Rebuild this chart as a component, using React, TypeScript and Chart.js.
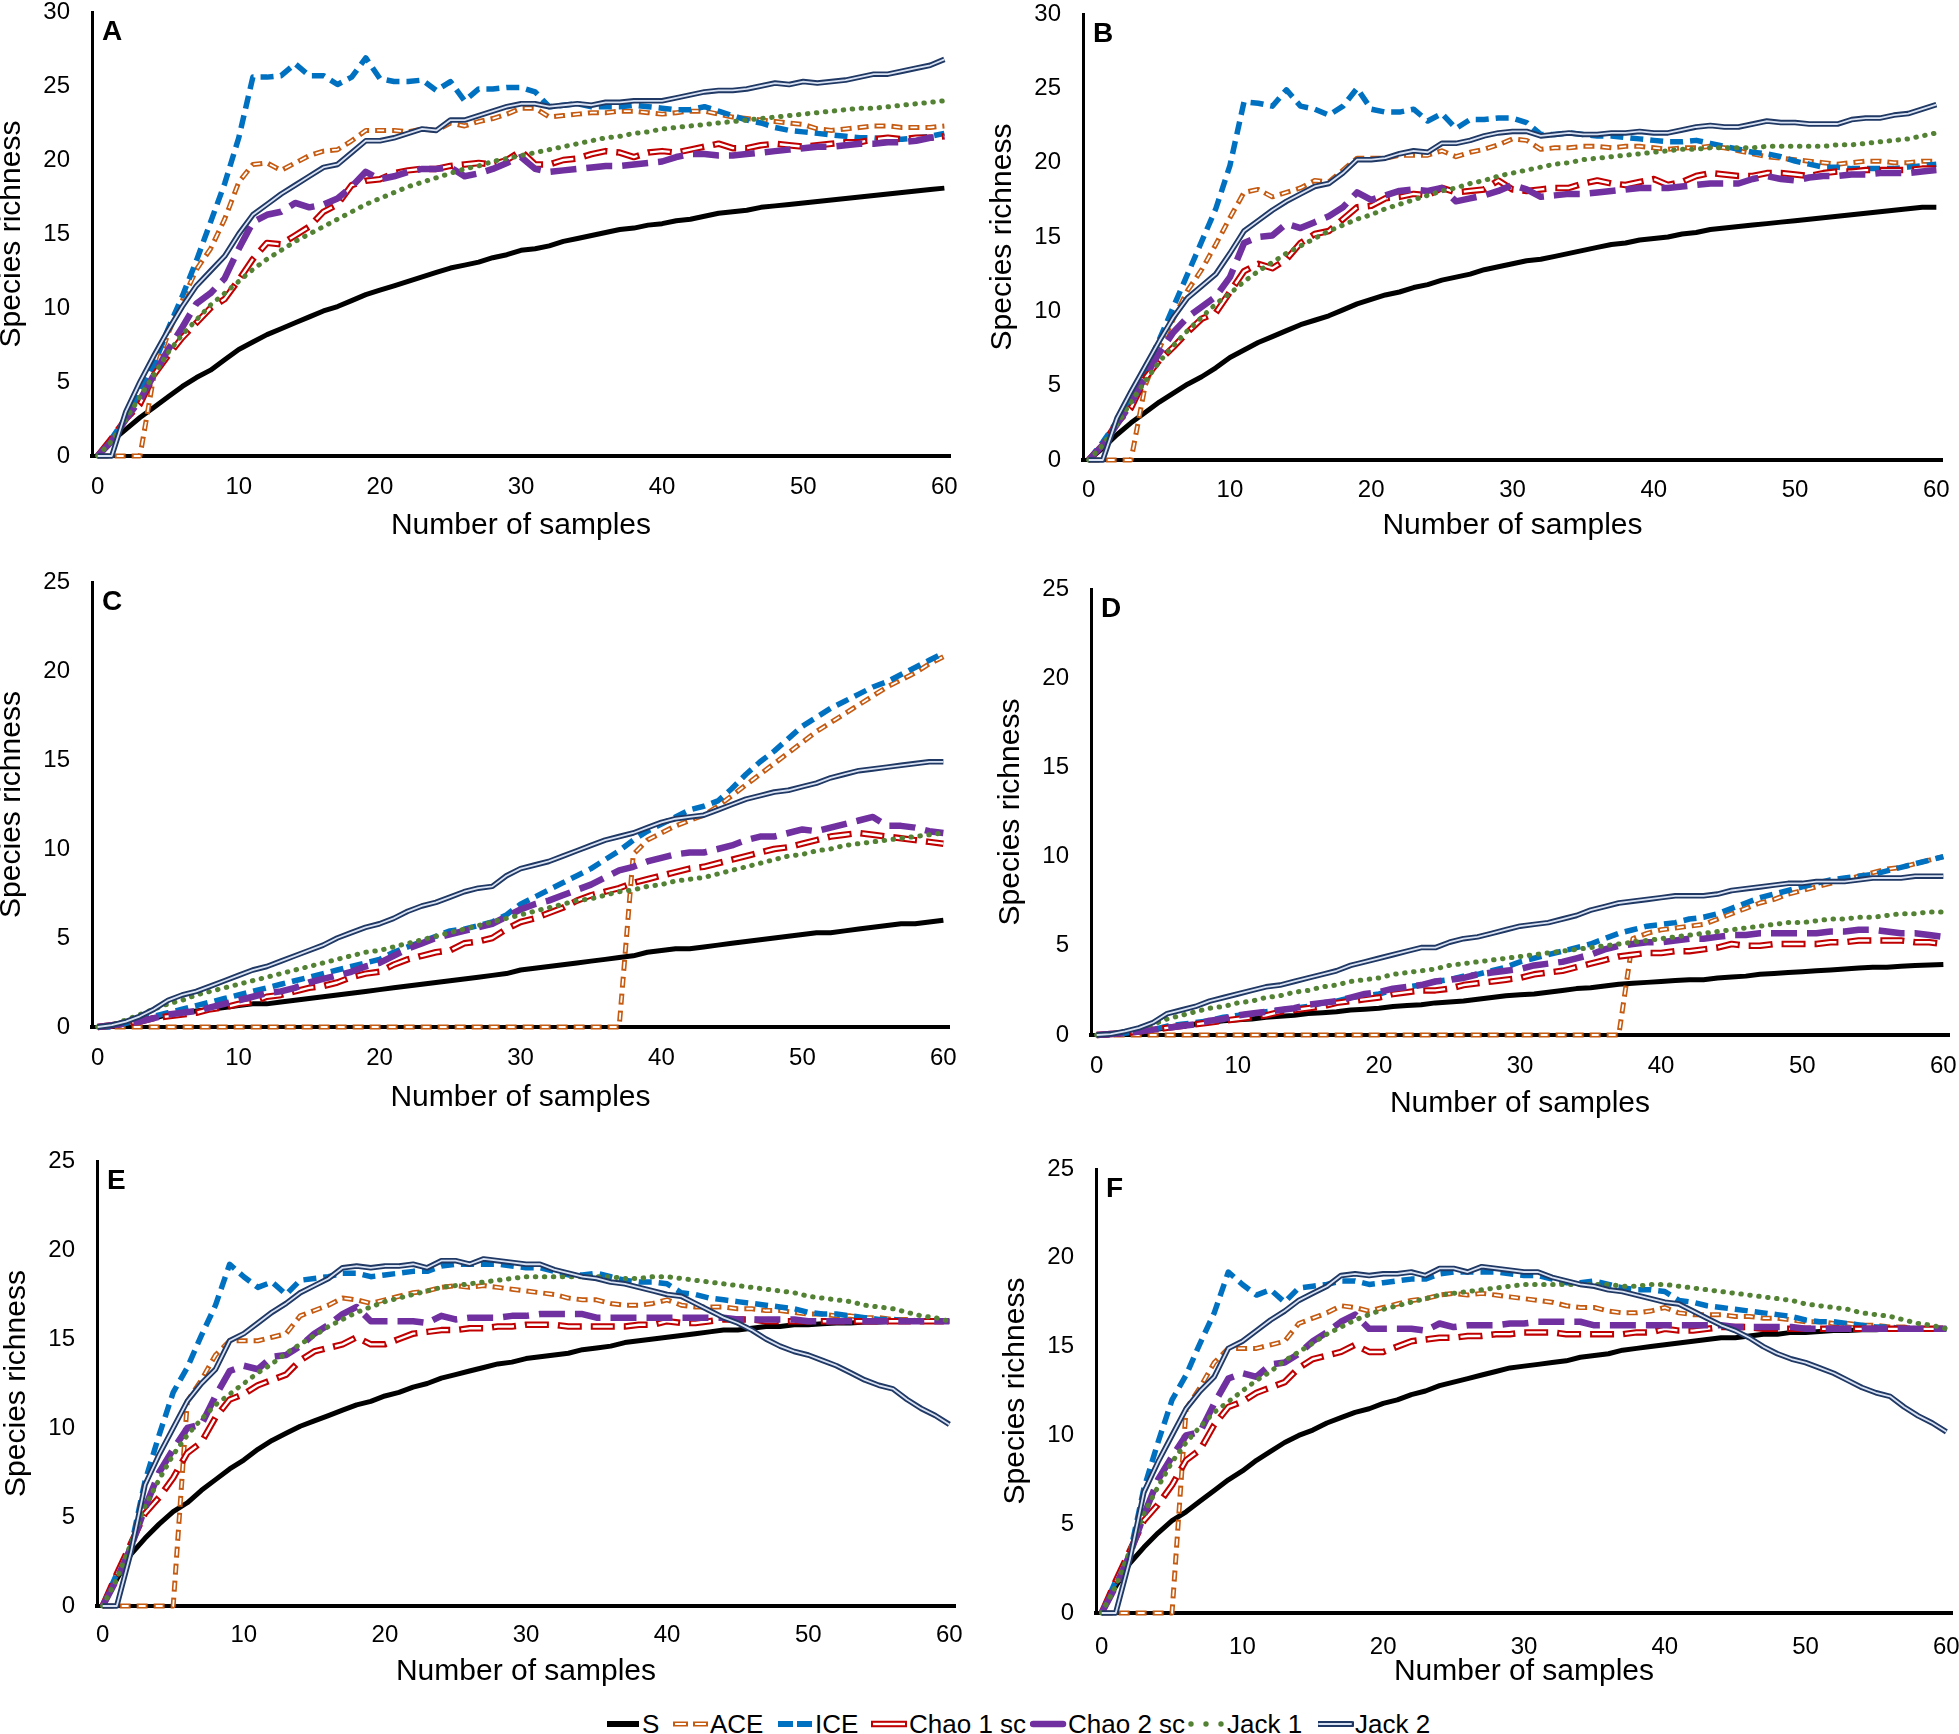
import React, { useEffect, useRef } from "react";
import { Chart, registerables } from "chart.js";

Chart.register(...registerables);

const FONT = "'Liberation Sans', Arial, Helvetica, sans-serif";

// Number of samples (x values)
const SAMPLES = Array.from({ length: 61 }, (_, i) => i);
const SERIES = ["S", "ACE", "ICE", "Chao 1 sc", "Chao 2 sc", "Jack 1", "Jack 2"];
const X_AXIS_TITLE = "Number of samples";
const Y_AXIS_TITLE = "Species richness";

// ---------------- Panel A ----------------
const A_S = [
  0, 1.0, 1.8, 2.6, 3.3, 4.0, 4.7, 5.3, 5.8, 6.5,
  7.2, 7.7, 8.2, 8.6, 9.0, 9.4, 9.8, 10.1, 10.5, 10.9,
  11.2, 11.5, 11.8, 12.1, 12.4, 12.7, 12.9, 13.1, 13.4, 13.6,
  13.9, 14.0, 14.2, 14.5, 14.7, 14.9, 15.1, 15.3, 15.4, 15.6,
  15.7, 15.9, 16.0, 16.2, 16.4, 16.5, 16.6, 16.8, 16.9, 17.0,
  17.1, 17.2, 17.3, 17.4, 17.5, 17.6, 17.7, 17.8, 17.9, 18.0,
  18.1,
];
const A_ACE = [
  0, 0, 0, 0, 5.5, 8.3, 10.5, 12.6, 14.0, 16.0,
  18.5, 19.7, 19.8, 19.3, 19.8, 20.3, 20.6, 20.7, 21.3, 22.0,
  22.0, 22.0, 21.9, 22.1, 22.0, 22.5, 22.3, 22.6, 22.8, 23.1,
  23.5, 23.5, 22.9, 23.0, 23.1, 23.2, 23.2, 23.3, 23.3, 23.2,
  23.1, 23.2, 23.3, 23.3, 23.1, 22.9, 22.8, 22.7, 22.6, 22.5,
  22.4, 22.1, 22.0, 22.1, 22.2, 22.3, 22.3, 22.2, 22.2, 22.2,
  22.3,
];
const A_ICE = [
  0, 1.2, 2.6, 4.2, 6.2, 8.6, 10.8, 13.2, 15.8, 18.4,
  21.5, 25.6, 25.6, 25.7, 26.5, 25.7, 25.7, 25.1, 25.6, 26.9,
  25.5, 25.3, 25.3, 25.4, 24.7, 25.3, 24.0, 24.8, 24.8, 24.9,
  24.9, 24.6, 23.6, 23.7, 23.8, 23.6, 23.6, 23.6, 23.7, 23.6,
  23.5, 23.4, 23.4, 23.6, 23.3, 23.0, 22.7, 22.5, 22.2, 22.0,
  21.9, 21.8, 21.7, 21.6, 21.5, 21.5, 21.4, 21.4, 21.5, 21.6,
  21.8,
];
const A_CHAO1 = [
  0, 1.2, 2.5, 3.5, 5.5, 6.8, 8.0, 9.0, 10.0, 10.6,
  11.9, 13.3, 14.4, 14.3, 14.9, 15.5, 16.5, 17.0, 18.3, 18.6,
  18.7, 19.1, 19.3, 19.4, 19.4, 19.6, 19.7, 19.8, 19.7, 20.0,
  20.6, 19.7, 19.7, 20.0, 20.1, 20.4, 20.6, 20.5, 20.2, 20.5,
  20.6, 20.5, 20.7, 20.9, 21.1, 20.8, 20.8, 21.0, 21.1, 21.0,
  20.9, 21.0, 21.1, 21.2, 21.2, 21.4, 21.5, 21.4, 21.5, 21.5,
  21.6,
];
const A_CHAO2 = [
  0, 1.0, 2.5, 3.8, 5.5, 7.2, 8.7, 10.3, 11.0, 12.0,
  14.0, 15.8, 16.3, 16.5, 17.1, 16.8, 17.0, 17.4, 18.2, 19.2,
  18.7, 18.9, 19.2, 19.4, 19.4, 19.5, 18.9, 19.1, 19.4, 19.8,
  20.2, 19.4, 19.2, 19.3, 19.4, 19.5, 19.6, 19.6, 19.7, 19.8,
  19.9, 20.2, 20.4, 20.4, 20.3, 20.3, 20.4, 20.5, 20.6, 20.7,
  20.8, 20.9, 20.9, 21.0, 21.1, 21.1, 21.2, 21.2, 21.3, 21.5,
  21.6,
];
const A_JACK1 = [
  0, 1.0, 2.5, 4.0, 5.5, 7.0, 8.2, 9.2, 10.2, 11.0,
  11.8, 12.6, 13.3, 13.9, 14.5, 15.0, 15.5, 16.0, 16.5, 17.0,
  17.4, 17.8, 18.2, 18.5, 18.8, 19.1, 19.4, 19.6, 19.9, 20.1,
  20.3, 20.5, 20.7, 20.9, 21.1, 21.3, 21.5, 21.6, 21.8, 21.9,
  22.1, 22.2, 22.3, 22.4, 22.5, 22.6, 22.7, 22.8, 22.9, 23.0,
  23.1, 23.2, 23.3, 23.4, 23.5, 23.5, 23.6, 23.7, 23.8, 23.9,
  24.0,
];
const A_JACK2 = [
  0, 0, 3.0, 5.0, 6.8, 8.5, 10.1, 11.5, 12.5, 13.5,
  15.0, 16.3, 17.0, 17.7, 18.3, 18.9, 19.5, 19.7, 20.5, 21.3,
  21.3, 21.5, 21.8, 22.1, 22.0, 22.7, 22.7, 23.0, 23.3, 23.6,
  23.8, 23.8, 23.6, 23.7, 23.8, 23.7, 23.9, 23.9, 24.0, 24.0,
  24.0, 24.2, 24.4, 24.6, 24.7, 24.7, 24.8, 25.0, 25.2, 25.1,
  25.3, 25.2, 25.3, 25.4, 25.6, 25.8, 25.8, 26.0, 26.2, 26.4,
  26.8,
];

// ---------------- Panel B ----------------
const B_S = [
  0, 0.8, 1.7, 2.5, 3.2, 3.9, 4.5, 5.1, 5.6, 6.2,
  6.9, 7.4, 7.9, 8.3, 8.7, 9.1, 9.4, 9.7, 10.1, 10.5,
  10.8, 11.1, 11.3, 11.6, 11.8, 12.1, 12.3, 12.5, 12.8, 13.0,
  13.2, 13.4, 13.5, 13.7, 13.9, 14.1, 14.3, 14.5, 14.6, 14.8,
  14.9, 15.0, 15.2, 15.3, 15.5, 15.6, 15.7, 15.8, 15.9, 16.0,
  16.1, 16.2, 16.3, 16.4, 16.5, 16.6, 16.7, 16.8, 16.9, 17.0,
  17.0,
];
const B_ACE = [
  0, 0, 0, 0, 5.0, 7.5, 9.5, 11.4, 12.8, 14.5,
  16.3, 18.0, 18.2, 17.7, 18.0, 18.3, 18.8, 18.7, 19.5, 20.3,
  20.3, 20.3, 20.5, 20.5, 20.5, 20.8, 20.4, 20.7, 20.9, 21.2,
  21.6, 21.5, 20.9, 21.0, 21.0, 21.1, 21.1, 21.0, 21.1, 21.1,
  21.0, 20.9, 21.0, 21.0, 21.1, 21.0, 20.8, 20.6, 20.4, 20.3,
  20.2, 20.1, 20.0, 19.9, 20.0, 20.1, 20.1, 20.0, 20.0, 20.1,
  20.1,
];
const B_ICE = [
  0, 1.2, 2.6, 4.2, 6.0, 8.1, 10.3, 12.5, 14.7, 16.9,
  19.8, 24.1, 24.0, 23.8, 24.9, 23.8, 23.6, 23.2, 23.8, 25.0,
  23.6, 23.4, 23.4, 23.6, 22.8, 23.3, 22.3, 22.9, 22.9, 23.0,
  23.0, 22.7, 21.9, 21.9, 22.0, 21.9, 21.8, 21.8, 21.7, 21.6,
  21.5, 21.4, 21.4, 21.5, 21.3, 21.1, 20.9, 20.7, 20.6, 20.4,
  20.1, 19.9, 19.7, 19.7, 19.6, 19.6, 19.6, 19.6, 19.7, 19.8,
  19.9,
];
const B_CHAO1 = [
  0, 1.0, 2.5, 3.5, 5.5, 6.7, 7.6, 8.6, 9.5, 9.9,
  11.3, 12.7, 13.2, 12.9, 13.5, 14.6, 15.2, 15.4, 16.2, 17.0,
  17.1, 17.6, 17.7, 17.9, 17.8, 18.3, 18.0, 18.1, 18.2, 18.8,
  18.2, 18.1, 18.2, 18.3, 18.3, 18.6, 18.8, 18.6, 18.5, 18.7,
  18.9, 18.5, 18.7, 19.1, 19.3, 19.2, 19.1, 19.1, 19.3, 19.3,
  19.2, 19.1, 19.3, 19.4, 19.4, 19.5, 19.5, 19.5, 19.5, 19.6,
  19.6,
];
const B_CHAO2 = [
  0, 1.0, 2.4, 3.8, 5.6, 7.2, 8.6, 9.6, 10.3, 11.0,
  12.3, 14.6, 15.0, 15.1, 15.9, 15.6, 16.0, 16.4, 17.0, 18.0,
  17.5, 17.8, 18.1, 18.2, 18.1, 18.3, 17.4, 17.6, 17.8, 18.1,
  18.5, 18.2, 17.7, 17.8, 17.9, 17.9, 18.0, 18.1, 18.2, 18.3,
  18.3, 18.3, 18.4, 18.5, 18.6, 18.6, 18.6, 18.9, 19.1, 18.9,
  18.8, 19.0, 19.1, 19.1, 19.2, 19.2, 19.3, 19.3, 19.3, 19.4,
  19.5,
];
const B_JACK1 = [
  0, 1.0, 2.4, 3.9, 5.3, 6.6, 7.7, 8.7, 9.6, 10.5,
  11.2, 12.0, 12.7, 13.3, 13.9, 14.4, 14.9, 15.4, 15.8, 16.2,
  16.5, 16.9, 17.2, 17.5, 17.8, 18.1, 18.3, 18.6, 18.8, 19.1,
  19.3, 19.5, 19.7, 19.9, 20.0, 20.2, 20.3, 20.4, 20.5, 20.6,
  20.7, 20.8, 20.9, 20.9, 21.0, 21.0, 21.0, 21.0, 21.1, 21.1,
  21.1, 21.1, 21.1, 21.2, 21.2, 21.3, 21.4, 21.5, 21.6, 21.8,
  22.0,
];
const B_JACK2 = [
  0, 0, 2.8, 4.6, 6.3, 8.0, 9.6, 10.9, 11.7, 12.5,
  13.9, 15.4, 16.1, 16.8, 17.4, 17.9, 18.4, 18.6, 19.3, 20.2,
  20.2, 20.3, 20.6, 20.8, 20.7, 21.3, 21.3, 21.5, 21.8, 22.0,
  22.1, 22.1, 21.8, 21.9, 22.0, 21.9, 21.9, 22.0, 22.0, 22.1,
  22.0, 22.0, 22.2, 22.4, 22.5, 22.4, 22.4, 22.6, 22.8, 22.7,
  22.7, 22.6, 22.6, 22.6, 22.9, 23.0, 23.0, 23.2, 23.3, 23.6,
  23.9,
];

// ---------------- Panel C ----------------
const C_S = [
  0, 0.1, 0.3, 0.4, 0.5, 0.7, 0.8, 0.9, 1.0, 1.1,
  1.2, 1.3, 1.3, 1.4, 1.5, 1.6, 1.7, 1.8, 1.9, 2.0,
  2.1, 2.2, 2.3, 2.4, 2.5, 2.6, 2.7, 2.8, 2.9, 3.0,
  3.2, 3.3, 3.4, 3.5, 3.6, 3.7, 3.8, 3.9, 4.0, 4.2,
  4.3, 4.4, 4.4, 4.5, 4.6, 4.7, 4.8, 4.9, 5.0, 5.1,
  5.2, 5.3, 5.3, 5.4, 5.5, 5.6, 5.7, 5.8, 5.8, 5.9,
  6.0,
];
const C_ACE = [
  0, 0, 0, 0, 0, 0, 0, 0, 0, 0,
  0, 0, 0, 0, 0, 0, 0, 0, 0, 0,
  0, 0, 0, 0, 0, 0, 0, 0, 0, 0,
  0, 0, 0, 0, 0, 0, 0, 0, 9.7, 10.5,
  10.9, 11.3, 11.6, 11.9, 12.4, 13.0, 13.6, 14.2, 14.8, 15.4,
  16.0, 16.6, 17.1, 17.6, 18.1, 18.6, 19.1, 19.5, 19.9, 20.4,
  20.8,
];
const C_ICE = [
  0, 0, 0.2, 0.4, 0.6, 0.8, 1.0, 1.2, 1.4, 1.6,
  1.8, 2.0, 2.2, 2.4, 2.6, 2.8, 3.0, 3.2, 3.4, 3.6,
  3.8, 4.2, 4.5, 4.8, 5.1, 5.4, 5.5, 5.7, 5.9, 6.3,
  6.9, 7.3, 7.7, 8.1, 8.5, 8.9, 9.4, 9.9, 10.5, 11.0,
  11.4, 11.8, 12.2, 12.4, 12.7, 13.4, 14.2, 14.9, 15.5, 16.2,
  16.9, 17.4, 17.9, 18.3, 18.7, 19.1, 19.4, 19.8, 20.2, 20.6,
  21.0,
];
const C_CHAO1 = [
  0, 0.1, 0.2, 0.3, 0.5, 0.6, 0.7, 0.8, 1.0, 1.1,
  1.3, 1.4, 1.7, 1.8, 2.0, 2.2, 2.3, 2.5, 2.8, 3.0,
  3.1, 3.5, 3.8, 4.0, 4.2, 4.3, 4.7, 4.8, 5.0, 5.5,
  5.9, 6.1, 6.4, 6.7, 7.1, 7.4, 7.6, 7.8, 8.1, 8.3,
  8.5, 8.7, 8.9, 9.0, 9.2, 9.4, 9.6, 9.8, 10.0, 10.1,
  10.3, 10.5, 10.7, 10.8, 10.9, 10.8, 10.7, 10.6, 10.5, 10.4,
  10.3,
];
const C_CHAO2 = [
  0, 0.1, 0.2, 0.3, 0.5, 0.7, 0.8, 0.9, 1.1, 1.3,
  1.5, 1.7, 1.9, 2.0, 2.2, 2.5, 2.7, 2.9, 3.1, 3.4,
  3.6, 4.0, 4.4, 4.7, 5.0, 5.2, 5.4, 5.6, 5.8, 6.2,
  6.6, 6.9, 7.1, 7.4, 7.7, 8.0, 8.4, 8.8, 9.0, 9.3,
  9.5, 9.7, 9.8, 9.8, 10.0, 10.2, 10.5, 10.7, 10.7, 10.9,
  11.1, 11.0, 11.2, 11.4, 11.6, 11.8, 11.3, 11.3, 11.2, 11.0,
  10.9,
];
const C_JACK1 = [
  0, 0.1, 0.4, 0.7, 1.0, 1.3, 1.5, 1.8, 2.0, 2.2,
  2.4, 2.6, 2.8, 3.0, 3.2, 3.4, 3.6, 3.8, 4.0, 4.2,
  4.3, 4.5, 4.7, 4.9, 5.1, 5.3, 5.5, 5.7, 5.9, 6.1,
  6.3, 6.5, 6.7, 6.9, 7.1, 7.2, 7.4, 7.6, 7.7, 7.9,
  8.0, 8.2, 8.3, 8.4, 8.6, 8.8, 9.0, 9.2, 9.4, 9.6,
  9.7, 9.9, 10.0, 10.2, 10.3, 10.4, 10.5, 10.6, 10.7, 10.8,
  10.9,
];
const C_JACK2 = [
  0, 0.1, 0.3, 0.6, 1.0, 1.5, 1.8, 2.0, 2.3, 2.6,
  2.9, 3.2, 3.4, 3.7, 4.0, 4.3, 4.6, 5.0, 5.3, 5.6,
  5.8, 6.1, 6.5, 6.8, 7.0, 7.3, 7.6, 7.8, 7.9, 8.5,
  8.9, 9.1, 9.3, 9.6, 9.9, 10.2, 10.5, 10.7, 10.9, 11.2,
  11.5, 11.7, 11.8, 11.9, 12.2, 12.5, 12.8, 13.0, 13.2, 13.3,
  13.5, 13.7, 14.0, 14.2, 14.4, 14.5, 14.6, 14.7, 14.8, 14.9,
  14.9,
];

// ---------------- Panel D ----------------
const D_S = [
  0, 0.05, 0.1, 0.2, 0.3, 0.4, 0.5, 0.6, 0.7, 0.8,
  0.85, 0.9, 1.0, 1.05, 1.1, 1.2, 1.25, 1.3, 1.4, 1.45,
  1.5, 1.6, 1.65, 1.7, 1.8, 1.85, 1.9, 2.0, 2.1, 2.2,
  2.25, 2.3, 2.4, 2.5, 2.6, 2.65, 2.75, 2.85, 2.9, 2.95,
  3.0, 3.05, 3.1, 3.1, 3.2, 3.25, 3.3, 3.4, 3.45, 3.5,
  3.55, 3.6, 3.65, 3.7, 3.75, 3.8, 3.8, 3.85, 3.9, 3.92,
  3.95,
];
const D_ACE = [
  0, 0, 0, 0, 0, 0, 0, 0, 0, 0,
  0, 0, 0, 0, 0, 0, 0, 0, 0, 0,
  0, 0, 0, 0, 0, 0, 0, 0, 0, 0,
  0, 0, 0, 0, 0, 0, 0, 0, 5.4, 5.7,
  5.9, 6.0, 6.1, 6.2, 6.5, 6.8, 7.1, 7.4, 7.6, 7.9,
  8.1, 8.3, 8.5, 8.7, 8.9, 9.1, 9.3, 9.4, 9.6, 9.8,
  10.0,
];
const D_ICE = [
  0, 0, 0.1, 0.2, 0.3, 0.5, 0.6, 0.7, 0.8, 1.0,
  1.1, 1.2, 1.3, 1.4, 1.5, 1.6, 1.8, 1.9, 2.1, 2.2,
  2.3, 2.5, 2.7, 2.8, 3.0, 3.1, 3.3, 3.4, 3.6, 3.8,
  4.1, 4.3, 4.5, 4.7, 4.9, 5.1, 5.4, 5.7, 5.9, 6.1,
  6.2, 6.3, 6.5, 6.6, 6.8, 7.1, 7.4, 7.7, 7.9, 8.1,
  8.3, 8.5, 8.7, 8.8, 8.9, 9.0, 9.2, 9.4, 9.6, 9.8,
  10.0,
];
const D_CHAO1 = [
  0, 0.05, 0.1, 0.2, 0.3, 0.4, 0.5, 0.6, 0.7, 0.8,
  0.9, 1.0, 1.1, 1.3, 1.4, 1.5, 1.6, 1.8, 1.9, 2.0,
  2.1, 2.3, 2.4, 2.5, 2.5, 2.6, 2.8, 2.9, 3.0, 3.1,
  3.2, 3.4, 3.5, 3.6, 3.8, 4.0, 4.2, 4.4, 4.5, 4.6,
  4.6, 4.7, 4.7, 4.8, 4.9, 5.1, 5.0, 5.0, 5.1, 5.1,
  5.1, 5.1, 5.2, 5.2, 5.3, 5.3, 5.3, 5.3, 5.2, 5.2,
  5.1,
];
const D_CHAO2 = [
  0, 0.05, 0.1, 0.2, 0.3, 0.4, 0.5, 0.6, 0.8, 0.9,
  1.1, 1.2, 1.3, 1.4, 1.5, 1.7, 1.8, 1.9, 2.1, 2.3,
  2.4, 2.6, 2.7, 2.8, 3.0, 3.1, 3.2, 3.4, 3.5, 3.6,
  3.7, 3.9, 4.0, 4.1, 4.3, 4.5, 4.8, 5.0, 5.1, 5.2,
  5.2, 5.3, 5.4, 5.4, 5.5, 5.6, 5.6, 5.7, 5.7, 5.7,
  5.7, 5.7, 5.8, 5.8, 5.9, 5.9, 5.8, 5.7, 5.7, 5.6,
  5.5,
];
const D_JACK1 = [
  0, 0.05, 0.2, 0.4, 0.6, 0.9, 1.1, 1.3, 1.5, 1.6,
  1.8, 1.9, 2.1, 2.2, 2.4, 2.5, 2.7, 2.8, 3.0, 3.1,
  3.2, 3.4, 3.5, 3.6, 3.7, 3.9, 4.0, 4.1, 4.2, 4.3,
  4.4, 4.5, 4.6, 4.7, 4.8, 4.9, 5.0, 5.1, 5.2, 5.3,
  5.4, 5.5, 5.6, 5.7, 5.8, 5.9, 6.0, 6.1, 6.2, 6.3,
  6.3, 6.4, 6.5, 6.5, 6.6, 6.6, 6.7, 6.8, 6.8, 6.9,
  6.9,
];
const D_JACK2 = [
  0, 0.05, 0.2, 0.4, 0.7, 1.2, 1.4, 1.6, 1.9, 2.1,
  2.3, 2.5, 2.7, 2.8, 3.0, 3.2, 3.4, 3.6, 3.9, 4.1,
  4.3, 4.5, 4.7, 4.9, 4.9, 5.2, 5.4, 5.5, 5.7, 5.9,
  6.1, 6.2, 6.3, 6.5, 6.7, 7.0, 7.2, 7.4, 7.5, 7.6,
  7.7, 7.8, 7.8, 7.8, 7.9, 8.1, 8.2, 8.3, 8.4, 8.5,
  8.5, 8.6, 8.6, 8.6, 8.7, 8.8, 8.8, 8.8, 8.9, 8.9,
  8.9,
];

// ---------------- Panel E ----------------
const E_S = [
  0, 1.5, 2.9, 3.8, 4.6, 5.3, 5.8, 6.5, 7.1, 7.7,
  8.2, 8.8, 9.3, 9.7, 10.1, 10.4, 10.7, 11.0, 11.3, 11.5,
  11.8, 12.0, 12.3, 12.5, 12.8, 13.0, 13.2, 13.4, 13.6, 13.7,
  13.9, 14.0, 14.1, 14.2, 14.4, 14.5, 14.6, 14.8, 14.9, 15.0,
  15.1, 15.2, 15.3, 15.4, 15.5, 15.5, 15.6, 15.7, 15.7, 15.8,
  15.8, 15.85, 15.9, 15.9, 15.95, 15.95, 16.0, 16.0, 16.0, 16.0,
  16.0,
];
const E_ACE = [
  0, 0, 0, 0, 0, 0, 11.5, 12.7, 14.1, 14.9,
  14.9, 14.9, 15.1, 15.3, 16.3, 16.6, 16.9, 17.3, 17.2, 17.0,
  17.2, 17.4, 17.6, 17.7, 17.9, 18.0, 17.9, 18.0, 17.9, 17.8,
  17.7, 17.6, 17.5, 17.3, 17.2, 17.2, 17.0, 16.9, 16.9, 17.0,
  17.2, 16.9, 16.8, 16.8, 16.8, 16.7, 16.7, 16.6, 16.6, 16.5,
  16.4, 16.4, 16.3, 16.3, 16.2, 16.2, 16.1, 16.1, 16.0, 16.0,
  16.0,
];
const E_ICE = [
  0, 1.8, 3.3, 7.0, 9.6, 12.0, 13.4, 15.2, 16.9, 19.2,
  18.5, 17.9, 18.2, 17.5, 18.3, 18.4, 18.5, 18.7, 18.7, 18.5,
  18.6, 18.7, 18.8, 18.8, 19.1, 19.2, 19.2, 19.2, 19.2, 19.1,
  19.0, 19.0, 18.8, 18.6, 18.6, 18.7, 18.5, 18.3, 18.2, 18.2,
  18.1, 17.6, 17.5, 17.3, 17.2, 17.1, 17.0, 16.9, 16.8, 16.7,
  16.5, 16.4, 16.4, 16.3, 16.2, 16.1, 16.1, 16.0, 16.0, 16.0,
  16.0,
];
const E_CHAO1 = [
  0, 1.8, 3.5, 5.2, 6.1, 7.2, 8.6, 9.2, 10.6, 11.6,
  11.9, 12.4, 12.7, 13.0, 13.8, 14.3, 14.5, 14.7, 15.1, 14.7,
  14.7, 15.0, 15.3, 15.4, 15.5, 15.5, 15.6, 15.6, 15.7, 15.7,
  15.8, 15.8, 15.8, 15.7, 15.7, 15.7, 15.7, 15.7, 15.8, 15.8,
  16.0, 15.9, 15.9, 16.0, 16.1, 16.1, 16.1, 16.0, 16.0, 16.0,
  16.0, 16.0, 16.0, 16.0, 16.0, 16.0, 16.0, 16.0, 16.0, 16.0,
  16.0,
];
const E_CHAO2 = [
  0, 1.5, 3.3, 5.5, 7.5, 8.8, 10.0, 10.2, 11.8, 13.2,
  13.5, 13.3, 14.0, 14.1, 14.6, 15.3, 15.8, 16.4, 16.8, 16.0,
  16.0, 16.0, 16.0, 15.9, 16.3, 16.1, 16.2, 16.2, 16.2, 16.3,
  16.3, 16.4, 16.4, 16.4, 16.4, 16.2, 16.2, 16.2, 16.2, 16.2,
  16.2, 16.2, 16.2, 16.2, 16.2, 16.1, 16.1, 16.1, 16.1, 16.1,
  16.0, 16.0, 16.0, 16.0, 16.0, 16.0, 16.0, 16.0, 16.0, 16.0,
  16.0,
];
const E_JACK1 = [
  0, 1.5, 3.5, 5.6, 7.1, 8.5, 9.6, 10.5, 11.3, 11.9,
  12.5, 13.1, 13.6, 14.2, 14.7, 15.2, 15.7, 16.1, 16.5, 16.8,
  17.1, 17.3, 17.5, 17.7, 17.9, 18.0, 18.1, 18.2, 18.3, 18.4,
  18.5, 18.5, 18.5, 18.5, 18.5, 18.5, 18.5, 18.4, 18.4, 18.5,
  18.5, 18.4, 18.3, 18.2, 18.1, 18.0, 17.9, 17.8, 17.7, 17.6,
  17.4, 17.3, 17.2, 17.1, 16.9, 16.8, 16.7, 16.5, 16.3, 16.2,
  16.0,
];
const E_JACK2 = [
  0, 0, 3.0, 6.8, 8.5, 10.0, 11.5, 12.5, 13.3, 14.9,
  15.3, 15.9, 16.5, 17.0, 17.6, 18.0, 18.4, 19.0, 19.1, 19.0,
  19.1, 19.1, 19.2, 19.0, 19.4, 19.4, 19.2, 19.5, 19.4, 19.3,
  19.2, 19.2, 18.9, 18.7, 18.5, 18.4, 18.2, 18.1, 17.9, 17.7,
  17.5, 17.4, 17.0, 16.6, 16.2, 15.9, 15.5, 15.0, 14.6, 14.3,
  14.1, 13.8, 13.5, 13.1, 12.7, 12.4, 12.2, 11.6, 11.1, 10.7,
  10.2,
];

// ---------------- Panel F ----------------
const F_S = [
  0, 1.5, 2.8, 3.7, 4.5, 5.2, 5.7, 6.3, 6.9, 7.5,
  8.0, 8.6, 9.1, 9.6, 10.0, 10.3, 10.7, 11.0, 11.3, 11.5,
  11.8, 12.0, 12.3, 12.5, 12.8, 13.0, 13.2, 13.4, 13.6, 13.8,
  13.9, 14.0, 14.1, 14.2, 14.4, 14.5, 14.6, 14.8, 14.9, 15.0,
  15.1, 15.2, 15.3, 15.4, 15.5, 15.5, 15.6, 15.7, 15.7, 15.8,
  15.8, 15.85, 15.9, 15.9, 15.95, 15.95, 16.0, 16.0, 16.0, 16.0,
  16.0,
];
const F_ACE = [
  0, 0, 0, 0, 0, 0, 11.5, 12.7, 14.1, 14.9,
  14.9, 14.9, 15.1, 15.3, 16.3, 16.6, 16.9, 17.3, 17.2, 17.0,
  17.2, 17.4, 17.6, 17.7, 17.9, 18.0, 17.9, 18.0, 17.9, 17.8,
  17.7, 17.6, 17.5, 17.3, 17.2, 17.2, 17.0, 16.9, 16.9, 17.0,
  17.2, 16.9, 16.8, 16.8, 16.8, 16.7, 16.7, 16.6, 16.6, 16.5,
  16.4, 16.4, 16.3, 16.3, 16.2, 16.2, 16.1, 16.1, 16.0, 16.0,
  16.0,
];
const F_ICE = [
  0, 1.8, 3.3, 7.0, 9.6, 12.0, 13.4, 15.2, 16.9, 19.2,
  18.5, 17.9, 18.2, 17.5, 18.3, 18.4, 18.5, 18.7, 18.7, 18.5,
  18.6, 18.7, 18.8, 18.8, 19.1, 19.2, 19.2, 19.2, 19.2, 19.1,
  19.0, 19.0, 18.8, 18.6, 18.6, 18.7, 18.5, 18.3, 18.2, 18.2,
  18.1, 17.6, 17.5, 17.3, 17.2, 17.1, 17.0, 16.9, 16.8, 16.7,
  16.5, 16.4, 16.4, 16.3, 16.2, 16.1, 16.1, 16.0, 16.0, 16.0,
  16.0,
];
const F_CHAO1 = [
  0, 1.8, 3.5, 5.2, 6.1, 7.2, 8.6, 9.2, 10.6, 11.6,
  11.9, 12.4, 12.7, 13.0, 13.8, 14.3, 14.5, 14.7, 15.1, 14.7,
  14.7, 15.0, 15.3, 15.4, 15.5, 15.5, 15.6, 15.6, 15.7, 15.7,
  15.8, 15.8, 15.8, 15.7, 15.7, 15.7, 15.7, 15.7, 15.8, 15.8,
  16.0, 15.9, 15.9, 16.0, 16.1, 16.1, 16.1, 16.0, 16.0, 16.0,
  16.0, 16.0, 16.0, 16.0, 16.0, 16.0, 16.0, 16.0, 16.0, 16.0,
  16.0,
];
const F_CHAO2 = [
  0, 1.5, 3.3, 5.5, 7.5, 8.8, 10.0, 10.2, 11.8, 13.2,
  13.5, 13.3, 14.0, 14.1, 14.6, 15.3, 15.8, 16.4, 16.8, 16.0,
  16.0, 16.0, 16.0, 15.9, 16.3, 16.1, 16.2, 16.2, 16.2, 16.3,
  16.3, 16.4, 16.4, 16.4, 16.4, 16.2, 16.2, 16.2, 16.2, 16.2,
  16.2, 16.2, 16.2, 16.2, 16.2, 16.1, 16.1, 16.1, 16.1, 16.1,
  16.0, 16.0, 16.0, 16.0, 16.0, 16.0, 16.0, 16.0, 16.0, 16.0,
  16.0,
];
const F_JACK1 = [
  0, 1.5, 3.5, 5.6, 7.1, 8.5, 9.6, 10.5, 11.3, 11.9,
  12.5, 13.1, 13.6, 14.2, 14.7, 15.2, 15.7, 16.1, 16.5, 16.8,
  17.1, 17.3, 17.5, 17.7, 17.9, 18.0, 18.1, 18.2, 18.3, 18.4,
  18.5, 18.5, 18.5, 18.5, 18.5, 18.5, 18.5, 18.4, 18.4, 18.5,
  18.5, 18.4, 18.3, 18.2, 18.1, 18.0, 17.9, 17.8, 17.7, 17.6,
  17.4, 17.3, 17.2, 17.1, 16.9, 16.8, 16.7, 16.5, 16.3, 16.2,
  16.0,
];
const F_JACK2 = [
  0, 0, 3.0, 6.8, 8.5, 10.0, 11.5, 12.5, 13.3, 14.9,
  15.3, 15.9, 16.5, 17.0, 17.6, 18.0, 18.4, 19.0, 19.1, 19.0,
  19.1, 19.1, 19.2, 19.0, 19.4, 19.4, 19.2, 19.5, 19.4, 19.3,
  19.2, 19.2, 18.9, 18.7, 18.5, 18.4, 18.2, 18.1, 17.9, 17.7,
  17.5, 17.4, 17.0, 16.6, 16.2, 15.9, 15.5, 15.0, 14.6, 14.3,
  14.1, 13.8, 13.5, 13.1, 12.7, 12.4, 12.2, 11.6, 11.1, 10.7,
  10.2,
];

const Y_MAX_AB = 30;
const Y_MAX_CDEF = 25;

// ---------------- Styles (per series: stacked layers) ----------------
type Layer = { color: string; width: number; dash: number[]; offset?: number; cap?: CanvasLineCap };
const SERIES_STYLE: Layer[][] = [
  [{ color: "#000000", width: 5, dash: [] }],
  [
    { color: "#C55A11", width: 5, dash: [11, 6] },
    { color: "#FFFFFF", width: 1.8, dash: [7, 10], offset: -2 },
  ],
  [{ color: "#0070C0", width: 5.5, dash: [13, 7] }],
  [
    { color: "#C00000", width: 6.5, dash: [24, 9] },
    { color: "#FFFFFF", width: 2.4, dash: [20, 13], offset: -2 },
  ],
  [{ color: "#7030A0", width: 6.5, dash: [26, 10] }],
  [{ color: "#548235", width: 5, dash: [0.5, 8.5], cap: "round" }],
  [
    { color: "#1F3864", width: 5.5, dash: [] },
    { color: "#D9E2F3", width: 1.8, dash: [] },
  ],
];

type PanelDef = {
  letter: string;
  ymax: number;
  series: number[][];
  L: number; x60: number; T: number; B: number;
  tickOff: number; titleOff: number;
};

const PANELS: PanelDef[] = [
  { letter: "A", ymax: Y_MAX_AB, series: [A_S, A_ACE, A_ICE, A_CHAO1, A_CHAO2, A_JACK1, A_JACK2], L: 92, x60: 944, T: 12, B: 456, tickOff: 31, titleOff: 70 },
  { letter: "B", ymax: Y_MAX_AB, series: [B_S, B_ACE, B_ICE, B_CHAO1, B_CHAO2, B_JACK1, B_JACK2], L: 1083, x60: 1936, T: 14, B: 460, tickOff: 30, titleOff: 66 },
  { letter: "C", ymax: Y_MAX_CDEF, series: [C_S, C_ACE, C_ICE, C_CHAO1, C_CHAO2, C_JACK1, C_JACK2], L: 92, x60: 943, T: 582, B: 1027, tickOff: 31, titleOff: 71 },
  { letter: "D", ymax: Y_MAX_CDEF, series: [D_S, D_ACE, D_ICE, D_CHAO1, D_CHAO2, D_JACK1, D_JACK2], L: 1091, x60: 1943, T: 589, B: 1035, tickOff: 31, titleOff: 69 },
  { letter: "E", ymax: Y_MAX_CDEF, series: [E_S, E_ACE, E_ICE, E_CHAO1, E_CHAO2, E_JACK1, E_JACK2], L: 97, x60: 949, T: 1161, B: 1606, tickOff: 29, titleOff: 66 },
  { letter: "F", ymax: Y_MAX_CDEF, series: [F_S, F_ACE, F_ICE, F_CHAO1, F_CHAO2, F_JACK1, F_JACK2], L: 1096, x60: 1946, T: 1169, B: 1613, tickOff: 34, titleOff: 59 },
];

const XMIN = -0.4;
const XMAX = 60.4;
const YW = 98;
const PAD_T = 20;
const PAD_R = 24;
const TICK_FONT = 24;
const TITLE_FONT = 30;

function geometry(p: PanelDef) {
  const ppu = (p.x60 - p.L) / (60 - XMIN);
  const R = p.x60 + (XMAX - 60) * ppu;
  const XH = p.titleOff + (TITLE_FONT * 1.2) / 2;
  return {
    left: p.L - YW,
    top: p.T - PAD_T,
    width: Math.round(YW + (R - p.L) + PAD_R),
    height: Math.round(PAD_T + (p.B - p.T) + XH),
    XH,
  };
}

function Panel({ p }: { p: PanelDef }) {
  const ref = useRef<HTMLCanvasElement | null>(null);
  const g = geometry(p);
  useEffect(() => {
    if (!ref.current) return;
    const datasets: any[] = [];
    p.series.forEach((vals, si) => {
      const pts = SAMPLES.map((x, i) => ({ x, y: vals[i] }));
      SERIES_STYLE[si].forEach((layer, li) => {
        datasets.push({
          label: li === 0 ? SERIES[si] : SERIES[si] + " (inner)",
          data: pts,
          borderColor: layer.color,
          backgroundColor: layer.color,
          borderWidth: layer.width,
          borderDash: layer.dash,
          borderDashOffset: layer.offset || 0,
          borderCapStyle: layer.cap || "butt",
          borderJoinStyle: "round",
          pointRadius: 0,
          tension: 0,
          fill: false,
          clip: 10,
          order: (7 - si) * 10 - li,
        });
      });
    });
    const letterPlugin = {
      id: "panelLetter",
      afterDraw(chart: any) {
        const ctx = chart.ctx;
        const a = chart.chartArea;
        ctx.save();
        ctx.font = `bold 28px ${FONT}`;
        ctx.fillStyle = "#000";
        ctx.textBaseline = "alphabetic";
        ctx.textAlign = "left";
        ctx.fillText(p.letter, a.left + 10, a.top + 28);
        ctx.restore();
      },
    };
    const chart = new Chart(ref.current, {
      type: "line",
      data: { datasets },
      options: {
        responsive: false,
        animation: false,
        events: [],
        layout: { padding: { left: 0, top: PAD_T, right: PAD_R, bottom: 0 } },
        plugins: { legend: { display: false }, tooltip: { enabled: false } },
        scales: {
          x: {
            type: "linear",
            min: XMIN,
            max: XMAX,
            grid: { display: false, drawTicks: false },
            border: { display: true, color: "#000", width: 4 },
            ticks: {
              stepSize: 10,
              includeBounds: false,
              autoSkip: false,
              maxRotation: 0,
              padding: p.tickOff - (TICK_FONT * 1.2) / 2,
              color: "#000",
              font: { family: FONT, size: TICK_FONT },
            },
            title: {
              display: true,
              text: X_AXIS_TITLE,
              color: "#000",
              font: { family: FONT, size: TITLE_FONT },
              padding: 0,
            },
            afterFit: (s: any) => {
              s.height = g.XH;
              s.paddingLeft = 0;
              s.paddingRight = 0;
            },
          },
          y: {
            type: "linear",
            min: 0,
            max: p.ymax,
            grid: { display: false, drawTicks: false },
            border: { display: true, color: "#000", width: 3 },
            ticks: {
              stepSize: 5,
              padding: 22,
              color: "#000",
              font: { family: FONT, size: TICK_FONT },
            },
            title: {
              display: true,
              text: Y_AXIS_TITLE,
              color: "#000",
              font: { family: FONT, size: TITLE_FONT },
              padding: 0,
            },
            afterFit: (s: any) => {
              s.width = YW;
              s.paddingTop = 0;
              s.paddingBottom = 0;
            },
          },
        },
      } as any,
      plugins: [letterPlugin],
    });
    return () => chart.destroy();
  }, []);
  return (
    <canvas
      ref={ref}
      width={g.width}
      height={g.height}
      style={{ position: "absolute", left: g.left, top: g.top, width: g.width, height: g.height }}
    />
  );
}

function Sample({ idx }: { idx: number }) {
  const y = 15;
  switch (idx) {
    case 0:
      return <svg width={34} height={30}><line x1={0} y1={y} x2={32} y2={y} stroke="#000" strokeWidth={6} /></svg>;
    case 1:
      return (
        <svg width={36} height={30}>
          <line x1={0} y1={y} x2={35} y2={y} stroke="#C55A11" strokeWidth={5} strokeDasharray="15 5" />
          <line x1={0} y1={y} x2={35} y2={y} stroke="#fff" strokeWidth={1.8} strokeDasharray="11 9" strokeDashoffset={-2} />
        </svg>
      );
    case 2:
      return <svg width={36} height={30}><line x1={0} y1={y} x2={34} y2={y} stroke="#0070C0" strokeWidth={6} strokeDasharray="15 4" /></svg>;
    case 3:
      return (
        <svg width={37} height={30}>
          <line x1={0} y1={y} x2={36} y2={y} stroke="#C00000" strokeWidth={6.5} />
          <line x1={2} y1={y} x2={34} y2={y} stroke="#fff" strokeWidth={2.4} />
        </svg>
      );
    case 4:
      return <svg width={37} height={30}><line x1={3} y1={y} x2={33} y2={y} stroke="#7030A0" strokeWidth={6.5} strokeLinecap="round" /></svg>;
    case 5:
      return (
        <svg width={38} height={30}>
          <circle cx={3} cy={y} r={2.7} fill="#548235" />
          <circle cx={18} cy={y} r={2.7} fill="#548235" />
          <circle cx={33} cy={y} r={2.7} fill="#548235" />
        </svg>
      );
    default:
      return (
        <svg width={36} height={30}>
          <line x1={0} y1={y} x2={34} y2={y} stroke="#1F3864" strokeWidth={6} strokeLinecap="round" />
          <line x1={1} y1={y} x2={33} y2={y} stroke="#D9E2F3" strokeWidth={2} strokeLinecap="round" />
        </svg>
      );
  }
}

const LEGEND_LEFT = [607, 673, 778, 871, 1030, 1188, 1318];

function Legend() {
  return (
    <>
      {SERIES.map((name, i) => (
        <div
          key={name}
          style={{
            position: "absolute",
            left: LEGEND_LEFT[i],
            top: 1709,
            height: 30,
            display: "flex",
            alignItems: "center",
            fontFamily: FONT,
            fontSize: 26,
            lineHeight: "30px",
            color: "#000",
            whiteSpace: "nowrap",
          }}
        >
          <Sample idx={i} />
          <span style={{ marginLeft: 1 }}>{name}</span>
        </div>
      ))}
    </>
  );
}

export default function App() {
  return (
    <div
      style={{
        position: "absolute",
        left: 0,
        top: 0,
        width: 1959,
        height: 1734,
        overflow: "hidden",
        background: "#fff",
      }}
    >
      {PANELS.map((p) => (
        <Panel key={p.letter} p={p} />
      ))}
      <Legend />
    </div>
  );
}
